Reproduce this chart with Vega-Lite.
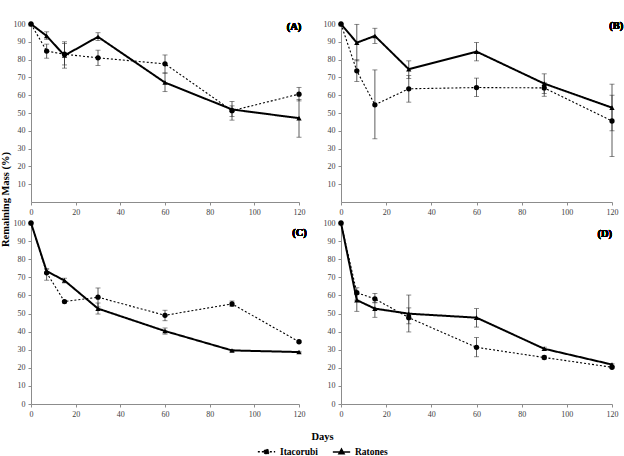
{
  "$schema": "https://vega.github.io/schema/vega-lite/v6.json",
  "padding": {"left": 0, "top": 20, "right": 4, "bottom": 0},
  "background": "white",
  "datasets": {
    "d": [
      {"panel": "A", "site": "Itacorubi", "day": 0, "mean": 100, "lo": 100, "hi": 100},
      {"panel": "A", "site": "Itacorubi", "day": 7, "mean": 84.8, "lo": 80.8, "hi": 88.7},
      {"panel": "A", "site": "Itacorubi", "day": 15, "mean": 83, "lo": 77, "hi": 89},
      {"panel": "A", "site": "Itacorubi", "day": 30, "mean": 81, "lo": 76.7, "hi": 85.3},
      {"panel": "A", "site": "Itacorubi", "day": 60, "mean": 77.6, "lo": 72.4, "hi": 82.6},
      {"panel": "A", "site": "Itacorubi", "day": 90, "mean": 51.3, "lo": 46, "hi": 56.5},
      {"panel": "A", "site": "Itacorubi", "day": 120, "mean": 60.6, "lo": 56.8, "hi": 64.4},
      {"panel": "A", "site": "Ratones", "day": 0, "mean": 100, "lo": 100, "hi": 100},
      {"panel": "A", "site": "Ratones", "day": 7, "mean": 93.3, "lo": 91.4, "hi": 95.6},
      {"panel": "A", "site": "Ratones", "day": 15, "mean": 82.3, "lo": 75.2, "hi": 90},
      {"panel": "A", "site": "Ratones", "day": 30, "mean": 92.8, "lo": 90.7, "hi": 95.1},
      {"panel": "A", "site": "Ratones", "day": 60, "mean": 67.1, "lo": 62, "hi": 72.5},
      {"panel": "A", "site": "Ratones", "day": 90, "mean": 52, "lo": 48, "hi": 54},
      {"panel": "A", "site": "Ratones", "day": 120, "mean": 47.1, "lo": 36.4, "hi": 57.6},
      {"panel": "B", "site": "Itacorubi", "day": 0, "mean": 100, "lo": 100, "hi": 100},
      {"panel": "B", "site": "Itacorubi", "day": 7, "mean": 73.7, "lo": 67.7, "hi": 79.9},
      {"panel": "B", "site": "Itacorubi", "day": 15, "mean": 54.6, "lo": 35.5, "hi": 74.2},
      {"panel": "B", "site": "Itacorubi", "day": 30, "mean": 63.6, "lo": 56.1, "hi": 71},
      {"panel": "B", "site": "Itacorubi", "day": 60, "mean": 64.3, "lo": 59.2, "hi": 69.6},
      {"panel": "B", "site": "Itacorubi", "day": 90, "mean": 64.1, "lo": 59.4, "hi": 67},
      {"panel": "B", "site": "Itacorubi", "day": 120, "mean": 45.5, "lo": 25.5, "hi": 60},
      {"panel": "B", "site": "Ratones", "day": 0, "mean": 100, "lo": 100, "hi": 100},
      {"panel": "B", "site": "Ratones", "day": 7, "mean": 89.5, "lo": 79.3, "hi": 99.8},
      {"panel": "B", "site": "Ratones", "day": 15, "mean": 93.3, "lo": 89.1, "hi": 97.6},
      {"panel": "B", "site": "Ratones", "day": 30, "mean": 74.6, "lo": 69.4, "hi": 79.3},
      {"panel": "B", "site": "Ratones", "day": 60, "mean": 84.5, "lo": 79.3, "hi": 89.6},
      {"panel": "B", "site": "Ratones", "day": 90, "mean": 66.5, "lo": 60.9, "hi": 72},
      {"panel": "B", "site": "Ratones", "day": 120, "mean": 53, "lo": 40, "hi": 66.2},
      {"panel": "C", "site": "Itacorubi", "day": 0, "mean": 100, "lo": 100, "hi": 100},
      {"panel": "C", "site": "Itacorubi", "day": 7, "mean": 72.5, "lo": 68.4, "hi": 74.5},
      {"panel": "C", "site": "Itacorubi", "day": 15, "mean": 56.6, "lo": 55.8, "hi": 57.2},
      {"panel": "C", "site": "Itacorubi", "day": 30, "mean": 59, "lo": 53.6, "hi": 64.1},
      {"panel": "C", "site": "Itacorubi", "day": 60, "mean": 49, "lo": 46, "hi": 51.8},
      {"panel": "C", "site": "Itacorubi", "day": 90, "mean": 55.3, "lo": 53.8, "hi": 56.9},
      {"panel": "C", "site": "Itacorubi", "day": 120, "mean": 34.4, "lo": 33.9, "hi": 34.9},
      {"panel": "C", "site": "Ratones", "day": 0, "mean": 100, "lo": 100, "hi": 100},
      {"panel": "C", "site": "Ratones", "day": 7, "mean": 73.4, "lo": 72.1, "hi": 74.7},
      {"panel": "C", "site": "Ratones", "day": 15, "mean": 68.2, "lo": 66.9, "hi": 69.5},
      {"panel": "C", "site": "Ratones", "day": 30, "mean": 52.7, "lo": 49.7, "hi": 55.8},
      {"panel": "C", "site": "Ratones", "day": 60, "mean": 40.3, "lo": 38.6, "hi": 42},
      {"panel": "C", "site": "Ratones", "day": 90, "mean": 29.6, "lo": 29.1, "hi": 30.1},
      {"panel": "C", "site": "Ratones", "day": 120, "mean": 28.7, "lo": 28.3, "hi": 29.1},
      {"panel": "D", "site": "Itacorubi", "day": 0, "mean": 100, "lo": 100, "hi": 100},
      {"panel": "D", "site": "Itacorubi", "day": 7, "mean": 61.5, "lo": 57.4, "hi": 64.2},
      {"panel": "D", "site": "Itacorubi", "day": 15, "mean": 58.1, "lo": 55.9, "hi": 61.1},
      {"panel": "D", "site": "Itacorubi", "day": 30, "mean": 47.7, "lo": 44.3, "hi": 53.1},
      {"panel": "D", "site": "Itacorubi", "day": 60, "mean": 31.3, "lo": 26.1, "hi": 36.7},
      {"panel": "D", "site": "Itacorubi", "day": 90, "mean": 25.7, "lo": 24.8, "hi": 26.6},
      {"panel": "D", "site": "Itacorubi", "day": 120, "mean": 20.3, "lo": 19.9, "hi": 20.7},
      {"panel": "D", "site": "Ratones", "day": 0, "mean": 100, "lo": 100, "hi": 100},
      {"panel": "D", "site": "Ratones", "day": 7, "mean": 57.4, "lo": 51.2, "hi": 60.5},
      {"panel": "D", "site": "Ratones", "day": 15, "mean": 52.7, "lo": 47.9, "hi": 56.2},
      {"panel": "D", "site": "Ratones", "day": 30, "mean": 49.9, "lo": 39.8, "hi": 60.2},
      {"panel": "D", "site": "Ratones", "day": 60, "mean": 47.7, "lo": 42.5, "hi": 52.7},
      {"panel": "D", "site": "Ratones", "day": 90, "mean": 30.5, "lo": 29.6, "hi": 31.4},
      {"panel": "D", "site": "Ratones", "day": 120, "mean": 21.8, "lo": 21.4, "hi": 22.2}
    ]
  },
  "columns": 2,
  "bounds": "flush",
  "spacing": {"row": 21, "column": 42},
  "concat": [
    {
      "width": 268, "height": 178,
      "data": {"name": "d"},
      "transform": [{"filter": "datum.panel === 'A'"}],
      "layer": [
        {"mark": {"type": "rule", "color": "#333", "strokeWidth": 0.8},
         "encoding": {"x": {"field": "day", "type": "quantitative"}, "y": {"field": "lo", "type": "quantitative"}, "y2": {"field": "hi"}}},
        {"mark": {"type": "tick", "orient": "horizontal", "size": 5, "thickness": 0.8, "color": "#333"},
         "encoding": {"x": {"field": "day", "type": "quantitative"}, "y": {"field": "lo", "type": "quantitative"}}},
        {"mark": {"type": "tick", "orient": "horizontal", "size": 5, "thickness": 0.8, "color": "#333"},
         "encoding": {"x": {"field": "day", "type": "quantitative"}, "y": {"field": "hi", "type": "quantitative"}}},
        {"mark": {"type": "line", "color": "black"},
         "encoding": {
           "x": {"field": "day", "type": "quantitative", "scale": {"domain": [0, 120]}, "axis": {"values": [0, 20, 40, 60, 80, 100, 120], "tickCount": 20, "title": null}},
           "y": {"field": "mean", "type": "quantitative", "scale": {"domain": [10, 100]}, "axis": {"values": [10, 20, 30, 40, 50, 60, 70, 80, 90, 100], "tickCount": 20, "title": "Remaining Mass (%)", "titleX": -21, "titleY": 175, "titleAngle": 270, "titleBaseline": "bottom", "titleAlign": "center"}},
           "strokeDash": {"field": "site", "type": "nominal", "scale": {"domain": ["Itacorubi", "Ratones"], "range": [[2, 2], [1, 0]]},
             "legend": {"orient": "none", "legendX": 226, "legendY": 418, "direction": "horizontal", "title": null, "symbolSize": 300, "columnPadding": 12, "symbolStrokeWidth": 1.3, "symbolStrokeColor": "black", "symbolFillColor": "black",
               "encode": {"symbols": {"update": {"shape": {"signal": "datum.value === 'Itacorubi' ? 'M-1,0H1M-0.28,0A0.28,0.28,0,1,1,0.28,0A0.28,0.28,0,1,1,-0.28,0Z' : 'M-1,0H1M0,-0.36L0.32,0.22L-0.32,0.22Z'"}, "fill": {"value": "black"}, "stroke": {"value": "black"}}}}}},
           "strokeWidth": {"condition": {"test": "datum.site === 'Ratones'", "value": 2}, "value": 1.1}
         }},
        {"mark": {"type": "point", "filled": true, "color": "black", "opacity": 1, "size": 28},
         "encoding": {"x": {"field": "day", "type": "quantitative"}, "y": {"field": "mean", "type": "quantitative"},
           "shape": {"condition": {"test": "datum.site === 'Ratones'", "value": "triangle-up"}, "value": "circle"}}},
        {"mark": {"type": "text", "align": "right", "baseline": "middle", "font": "Liberation Serif", "fontWeight": "bold", "fontSize": 10.5, "color": "black"},
         "encoding": {"x": {"datum": 121}, "y": {"datum": 98.5}, "text": {"value": "(A)"}}}
      ]
    },
    {
      "width": 271, "height": 178,
      "data": {"name": "d"},
      "transform": [{"filter": "datum.panel === 'B'"}],
      "layer": [
        {"mark": {"type": "rule", "color": "#333", "strokeWidth": 0.8},
         "encoding": {"x": {"field": "day", "type": "quantitative"}, "y": {"field": "lo", "type": "quantitative"}, "y2": {"field": "hi"}}},
        {"mark": {"type": "tick", "orient": "horizontal", "size": 5, "thickness": 0.8, "color": "#333"},
         "encoding": {"x": {"field": "day", "type": "quantitative"}, "y": {"field": "lo", "type": "quantitative"}}},
        {"mark": {"type": "tick", "orient": "horizontal", "size": 5, "thickness": 0.8, "color": "#333"},
         "encoding": {"x": {"field": "day", "type": "quantitative"}, "y": {"field": "hi", "type": "quantitative"}}},
        {"mark": {"type": "line", "color": "black"},
         "encoding": {
           "x": {"field": "day", "type": "quantitative", "scale": {"domain": [0, 120]}, "axis": {"values": [0, 20, 40, 60, 80, 100, 120], "tickCount": 20, "title": null}},
           "y": {"field": "mean", "type": "quantitative", "scale": {"domain": [10, 100]}, "axis": {"values": [10, 20, 30, 40, 50, 60, 70, 80, 90, 100], "tickCount": 20, "title": null}},
           "strokeDash": {"field": "site", "type": "nominal", "scale": {"domain": ["Itacorubi", "Ratones"], "range": [[2, 2], [1, 0]]}},
           "strokeWidth": {"condition": {"test": "datum.site === 'Ratones'", "value": 2}, "value": 1.1}
         }},
        {"mark": {"type": "point", "filled": true, "color": "black", "opacity": 1, "size": 28},
         "encoding": {"x": {"field": "day", "type": "quantitative"}, "y": {"field": "mean", "type": "quantitative"},
           "shape": {"condition": {"test": "datum.site === 'Ratones'", "value": "triangle-up"}, "value": "circle"}}},
        {"mark": {"type": "text", "align": "right", "baseline": "middle", "font": "Liberation Serif", "fontWeight": "bold", "fontSize": 10.5, "color": "black"},
         "encoding": {"x": {"datum": 125}, "y": {"datum": 99}, "text": {"value": "(B)"}}}
      ]
    },
    {
      "width": 268, "height": 181,
      "data": {"name": "d"},
      "transform": [{"filter": "datum.panel === 'C'"}],
      "layer": [
        {"mark": {"type": "rule", "color": "#333", "strokeWidth": 0.8},
         "encoding": {"x": {"field": "day", "type": "quantitative"}, "y": {"field": "lo", "type": "quantitative"}, "y2": {"field": "hi"}}},
        {"mark": {"type": "tick", "orient": "horizontal", "size": 5, "thickness": 0.8, "color": "#333"},
         "encoding": {"x": {"field": "day", "type": "quantitative"}, "y": {"field": "lo", "type": "quantitative"}}},
        {"mark": {"type": "tick", "orient": "horizontal", "size": 5, "thickness": 0.8, "color": "#333"},
         "encoding": {"x": {"field": "day", "type": "quantitative"}, "y": {"field": "hi", "type": "quantitative"}}},
        {"mark": {"type": "line", "color": "black"},
         "encoding": {
           "x": {"field": "day", "type": "quantitative", "scale": {"domain": [0, 120]}, "axis": {"values": [0, 20, 40, 60, 80, 100, 120], "tickCount": 20, "title": null}},
           "y": {"field": "mean", "type": "quantitative", "scale": {"domain": [0, 100]}, "axis": {"values": [0, 10, 20, 30, 40, 50, 60, 70, 80, 90, 100], "tickCount": 20, "title": null}},
           "strokeDash": {"field": "site", "type": "nominal", "scale": {"domain": ["Itacorubi", "Ratones"], "range": [[2, 2], [1, 0]]}},
           "strokeWidth": {"condition": {"test": "datum.site === 'Ratones'", "value": 2}, "value": 1.1}
         }},
        {"mark": {"type": "point", "filled": true, "color": "black", "opacity": 1, "size": 28},
         "encoding": {"x": {"field": "day", "type": "quantitative"}, "y": {"field": "mean", "type": "quantitative"},
           "shape": {"condition": {"test": "datum.site === 'Ratones'", "value": "triangle-up"}, "value": "circle"}}},
        {"mark": {"type": "text", "align": "right", "baseline": "middle", "font": "Liberation Serif", "fontWeight": "bold", "fontSize": 10.5, "color": "black"},
         "encoding": {"x": {"datum": 123.5}, "y": {"datum": 94.5}, "text": {"value": "(C)"}}}
      ]
    },
    {
      "width": 271, "height": 181,
      "data": {"name": "d"},
      "transform": [{"filter": "datum.panel === 'D'"}],
      "layer": [
        {"mark": {"type": "rule", "color": "#333", "strokeWidth": 0.8},
         "encoding": {"x": {"field": "day", "type": "quantitative"}, "y": {"field": "lo", "type": "quantitative"}, "y2": {"field": "hi"}}},
        {"mark": {"type": "tick", "orient": "horizontal", "size": 5, "thickness": 0.8, "color": "#333"},
         "encoding": {"x": {"field": "day", "type": "quantitative"}, "y": {"field": "lo", "type": "quantitative"}}},
        {"mark": {"type": "tick", "orient": "horizontal", "size": 5, "thickness": 0.8, "color": "#333"},
         "encoding": {"x": {"field": "day", "type": "quantitative"}, "y": {"field": "hi", "type": "quantitative"}}},
        {"mark": {"type": "line", "color": "black"},
         "encoding": {
           "x": {"field": "day", "type": "quantitative", "scale": {"domain": [0, 120]}, "axis": {"values": [0, 20, 40, 60, 80, 100, 120], "tickCount": 20, "title": "Days", "titleX": -19, "titleY": 27, "titleAlign": "center", "titleBaseline": "top"}},
           "y": {"field": "mean", "type": "quantitative", "scale": {"domain": [0, 100]}, "axis": {"values": [0, 10, 20, 30, 40, 50, 60, 70, 80, 90, 100], "tickCount": 20, "title": null}},
           "strokeDash": {"field": "site", "type": "nominal", "scale": {"domain": ["Itacorubi", "Ratones"], "range": [[2, 2], [1, 0]]}},
           "strokeWidth": {"condition": {"test": "datum.site === 'Ratones'", "value": 2}, "value": 1.1}
         }},
        {"mark": {"type": "point", "filled": true, "color": "black", "opacity": 1, "size": 28},
         "encoding": {"x": {"field": "day", "type": "quantitative"}, "y": {"field": "mean", "type": "quantitative"},
           "shape": {"condition": {"test": "datum.site === 'Ratones'", "value": "triangle-up"}, "value": "circle"}}},
        {"mark": {"type": "text", "align": "right", "baseline": "middle", "font": "Liberation Serif", "fontWeight": "bold", "fontSize": 10.5, "color": "black"},
         "encoding": {"x": {"datum": 120}, "y": {"datum": 94}, "text": {"value": "(D)"}}}
      ]
    }
  ],
  "resolve": {"scale": {"x": "independent", "y": "independent"}},
  "config": {
    "view": {"stroke": null},
    "axis": {"grid": false, "domainColor": "#8c8c8c", "tickColor": "#8c8c8c", "tickSize": 3, "labelColor": "#404040", "labelFont": "Liberation Serif", "labelFontSize": 8, "labelPadding": 3, "labelOverlap": false, "labelFlush": false, "titleFont": "Liberation Serif", "titleFontWeight": "bold", "titleFontSize": 10.5, "titleColor": "black"},
    "legend": {"labelFont": "Liberation Serif", "labelFontWeight": "bold", "labelFontSize": 9.5, "labelColor": "black"}
  }
}
